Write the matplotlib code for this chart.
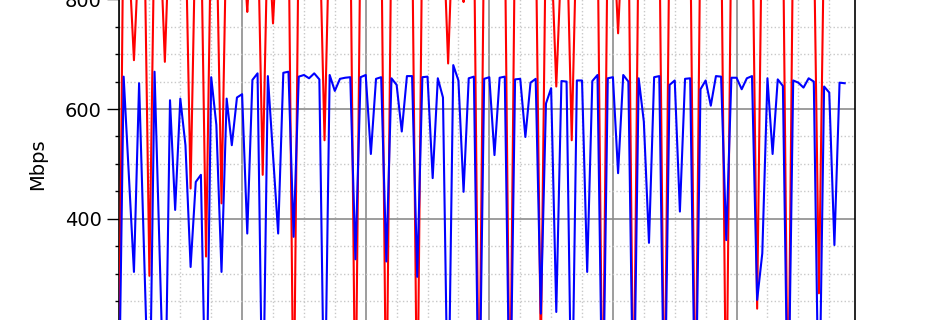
import matplotlib
matplotlib.use("Agg")
import matplotlib.pyplot as plt
from matplotlib.ticker import MultipleLocator

# sample index (one sample per step)
blue_mbps = [
    0, 659, 481, 303, 647, 330, 0, 668, 330, 0,
    616, 416, 619, 534, 312, 467, 480, 0, 658, 571,
    303, 619, 534, 621, 627, 373, 653, 665, 0, 660,
    517, 373, 666, 668, 367, 659, 662, 656, 665, 654,
    0, 662, 633, 655, 657, 658, 326, 658, 662, 518,
    655, 658, 322, 656, 644, 559, 660, 660, 294, 658,
    659, 474, 656, 621, 0, 680, 652, 449, 656, 659,
    0, 655, 658, 516, 657, 659, 0, 654, 655, 549,
    648, 655, 227, 610, 638, 230, 651, 650, 0, 652,
    652, 303, 651, 662, 0, 656, 658, 483, 662, 650,
    0, 656, 577, 356, 658, 660, 0, 644, 652, 413,
    655, 656, 0, 636, 652, 606, 660, 659, 361, 657,
    657, 636, 656, 660, 252, 337, 656, 518, 654, 642,
    0, 652, 648, 639, 656, 650, 0, 641, 630, 352,
    648, 647,
]

red_mbps = [
    0, 1000, 880, 689, 900, 940, 296, 950, 935, 686,
    960, 945, 950, 940, 455, 955, 945, 331, 950, 940,
    428, 955, 950, 945, 940, 777, 945, 950, 480, 940,
    756, 945, 950, 955, 0, 950, 945, 955, 950, 945,
    543, 950, 945, 955, 950, 945, 0, 950, 955, 945,
    950, 955, 0, 950, 945, 950, 955, 945, 0, 950,
    955, 945, 950, 940, 683, 950, 945, 795, 950, 955,
    0, 950, 945, 955, 950, 945, 0, 950, 955, 945,
    950, 945, 150, 950, 900, 641, 880, 940, 543, 950,
    945, 955, 950, 945, 0, 950, 945, 738, 950, 955,
    0, 950, 945, 955, 950, 945, 0, 950, 955, 945,
    950, 945, 0, 950, 955, 945, 950, 955, 0, 950,
    945, 955, 950, 1000, 236, 1000, 950, 945, 955, 950,
    0, 945, 950, 955, 945, 930, 264, 925, 950, 945,
    955, 950,
]

x_idx = list(range(len(blue_mbps)))
y_label = "Mbps"

plt.rcParams['font.family'] = ['DejaVu Sans']
fig = plt.figure(figsize=(9.5, 3.2), dpi=100)
ax = fig.add_axes([118.5 / 950, -0.3691, 736.5 / 950, 1.7141])

ax.plot(x_idx, red_mbps, color='#ff0000', lw=1.5, zorder=3)
ax.plot(x_idx, blue_mbps, color='#0000ff', lw=1.5, zorder=4)

ax.set_xlim(0, 143)
ax.set_ylim(0, 1000)
ax.xaxis.set_major_locator(MultipleLocator(24))
ax.xaxis.set_minor_locator(MultipleLocator(6))
ax.yaxis.set_major_locator(MultipleLocator(200))
ax.yaxis.set_minor_locator(MultipleLocator(50))

ax.grid(which='major', color='#8c8c8c', lw=1.2, ls='-', zorder=1)
ax.grid(which='minor', color='#c8c8c8', lw=1.0, ls=':', zorder=1)
ax.set_axisbelow(True)

ax.tick_params(axis='y', which='major', length=8.5, width=1.0, labelsize=14, pad=3.5)
ax.tick_params(axis='y', which='minor', length=3, width=1.0)
ax.tick_params(axis='x', labelsize=14)
for s in ax.spines.values():
    s.set_linewidth(1.2)
    s.set_color('black')

ax.set_ylabel(y_label, fontsize=14)

fig.savefig("out.png", dpi=100)
